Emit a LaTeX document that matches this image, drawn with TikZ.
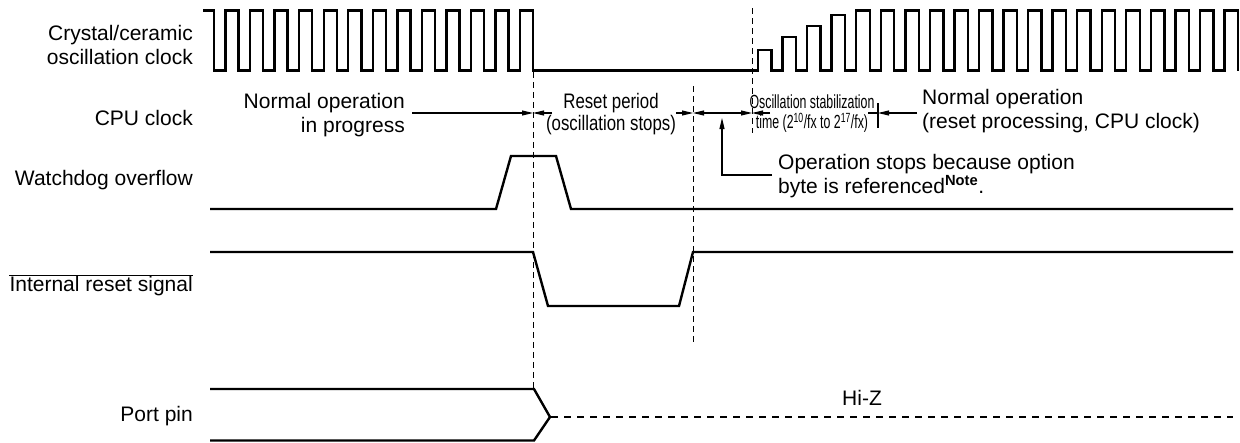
\documentclass[tikz,border=0pt]{standalone}
\usepackage{fontspec}
\setmainfont{Liberation Sans}
\newfontfamily\condA[FakeStretch=0.8]{Liberation Sans}
\newfontfamily\condB[FakeStretch=0.65]{Liberation Sans}
\usetikzlibrary{arrows.meta}
\tikzset{
  wave/.style={line width=2.4pt, line join=miter},
  guide/.style={line width=1pt, dash pattern=on 6pt off 4pt},
  hiz/.style={line width=2pt, dash pattern=on 7pt off 6pt},
  dim/.style={line width=1.1pt},
  arr/.style={-{Triangle[length=11pt,width=5pt]}},
  arrboth/.style={{Triangle[length=11pt,width=5pt]}-{Triangle[length=11pt,width=5pt]}},
  lbl/.style={font=\fontsize{21}{24}\selectfont, inner sep=0pt},
  cnda/.style={font=\condA\fontsize{21}{22}\selectfont, inner sep=0pt},
  cndb/.style={font=\condB\fontsize{19}{20}\selectfont, inner sep=0pt},
}
\begin{document}
\begin{tikzpicture}[x=1pt,y=-1pt]
\useasboundingbox (0,0) rectangle (1240,442);

% ---- left labels
\node[lbl, anchor=east, align=right] (lclk) at (193,45) {Crystal/ceramic\\oscillation clock};
\node[lbl, anchor=east] (lcpu) at (193,118) {CPU clock};
\node[lbl, anchor=east] (lwdt) at (193,180) {Watchdog overflow};
\node[lbl, anchor=east] (lrst) at (193,286) {Internal reset signal};
\draw[line width=1pt] ([yshift=1pt]lrst.north west) -- ([yshift=1pt]lrst.north east);
\node[lbl, anchor=east] (lport) at (193,416) {Port pin};

% ---- oscillation clock
\draw[wave] (203,10.5)
  foreach \k in {0,...,12} {
    -- ({214+24.55*\k},10.5) -- ({214+24.55*\k},70.5)
    -- ({225.5+24.55*\k},70.5) -- ({225.5+24.55*\k},10.5) }
  -- (533,10.5) -- (533,70.5) -- (758,70.5)
  -- (758,50) -- (771.5,50) -- (771.5,70.5)
  -- (782.55,70.5) -- (782.55,37) -- (796.05,37) -- (796.05,70.5)
  -- (807.1,70.5) -- (807.1,26) -- (820.6,26) -- (820.6,70.5)
  -- (831.65,70.5) -- (831.65,15) -- (845.15,15) -- (845.15,70.5)
  foreach \k in {4,...,19} {
    -- ({758+24.55*\k},70.5) -- ({758+24.55*\k},10.5)
    -- ({771.5+24.55*\k},10.5) -- ({771.5+24.55*\k},70.5) };

% ---- watchdog overflow
\draw[wave] (210,209) -- (496,209) -- (511,156) -- (556,156) -- (571,209) -- (1233,209);

% ---- internal reset
\draw[wave] (210,252) -- (533,252) -- (548,306) -- (679,306) -- (693,252) -- (1233,252);

% ---- port pin
\draw[wave] (210,389) -- (534,389) -- (550,417) -- (534,440.5) -- (210,440.5);
\draw[hiz] (551,417) -- (1233,417);
\node[lbl] (thiz) at (862,398) {Hi-Z};

% ---- guide lines
\coordinate (g1a) at (533,72);  \coordinate (g1b) at (533,389);
\coordinate (g2a) at (693,86);  \coordinate (g2b) at (693,344);
\coordinate (g3a) at (752,8);   \coordinate (g3b) at (752,133);
\draw[guide] (g1a) -- (g1b);
\draw[guide] (g2a) -- (g2b);
\draw[guide] (g3a) -- (g3b);

% ---- CPU clock dimension arrows
\coordinate (a0) at (412,113);
\coordinate (a1) at (533,113);
\coordinate (a2) at (552,113);
\coordinate (a3) at (676,113);
\coordinate (a4) at (693,113);
\coordinate (a5) at (752,113);
\coordinate (a6) at (770,113);
\coordinate (t1) at (878,103);
\coordinate (t2) at (878,128);
\coordinate (tm) at (878,113);
\coordinate (a7) at (917,113);
\coordinate (a8) at (868,113);
\draw[dim,arr] (a0) -- (a1);
\draw[dim,arr] (a2) -- (a1);
\draw[dim,arr] (a3) -- (a4);
\draw[dim,arrboth] (a4) -- (a5);
\draw[dim,arr] (a6) -- (a5);
\draw[dim] (t1) -- (t2);
\draw[dim] (a8) -- (tm);
\draw[dim,arr] (a7) -- (tm);

% ---- option byte pointer
\coordinate (p0) at (772,175);
\coordinate (p1) at (722,175);
\coordinate (p2) at (722,118);
\draw[dim,arr] (p0) -- (p1) -- (p2);

% ---- texts
\node[lbl, anchor=east, align=right] (tnorm) at (405,115) {Normal operation\\in progress};
\node[cnda, align=center] (treset) at (611,114) {Reset period\\(oscillation stops)};
\node[cndb, align=center] (tosc) at (812,114) {Oscillation stabilization\\time (2\textsuperscript{10}/fx to 2\textsuperscript{17}/fx)};
\node[lbl, anchor=west, align=left] (tnorm2) at (922,111) {Normal operation\\(reset processing, CPU clock)};
\node[lbl, anchor=west, align=left] (tstop) at (778,176) {Operation stops because option\\byte is referenced\textsuperscript{\bfseries Note}.};
\end{tikzpicture}
\end{document}
